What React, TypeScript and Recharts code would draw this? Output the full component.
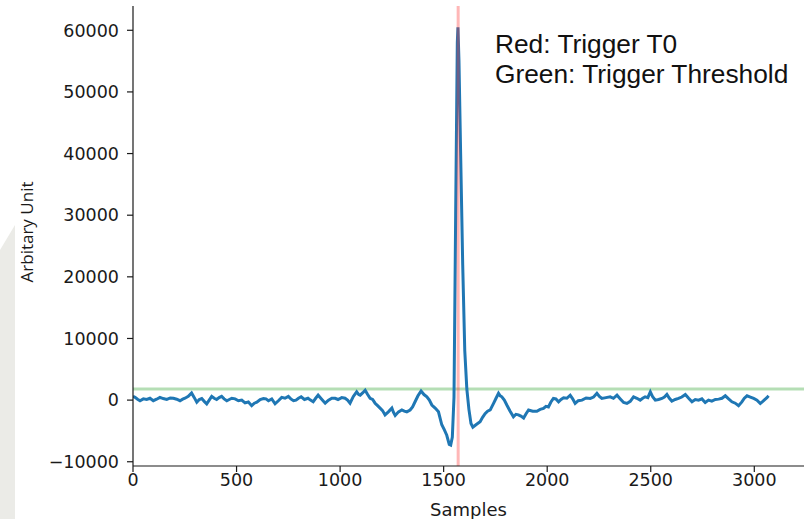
import React from "react"
import {
  LineChart,
  Line,
  XAxis,
  YAxis,
  ReferenceLine
} from "recharts"

// sample index of each point
const samples = [
  0, 10, 22, 34, 50, 66, 82, 98, 114, 130,
  146, 163, 180, 195, 211, 227, 240, 251, 267, 283,
  296, 308, 320, 332, 344, 356, 368, 380, 392, 404,
  416, 428, 440, 453, 465, 477, 493, 509, 525, 541,
  557, 573, 586, 598, 614, 630, 642, 654, 670, 686,
  702, 718, 734, 750, 762, 775, 787, 799, 812, 828,
  845, 857, 870, 882, 894, 910, 928, 944, 960, 976,
  990, 1008, 1024, 1036, 1048, 1064, 1080, 1090, 1097, 1110,
  1121, 1133, 1145, 1157, 1169, 1181, 1193, 1205, 1217, 1233,
  1250, 1258, 1266, 1282, 1298, 1310, 1322, 1338, 1350, 1362,
  1376, 1391, 1405, 1419, 1431, 1443, 1459, 1475, 1491, 1503,
  1515, 1527, 1534, 1542, 1550, 1558, 1566, 1569, 1574, 1582,
  1592, 1602, 1612, 1622, 1632, 1641, 1656, 1676, 1688, 1700,
  1712, 1725, 1741, 1753, 1765, 1773, 1781, 1793, 1805, 1821,
  1837, 1849, 1861, 1873, 1886, 1898, 1910, 1930, 1950, 1966,
  1982, 1994, 2006, 2018, 2030, 2042, 2055, 2067, 2079, 2095,
  2111, 2123, 2135, 2150, 2168, 2188, 2208, 2224, 2240, 2252,
  2264, 2284, 2304, 2320, 2337, 2353, 2369, 2385, 2401, 2417,
  2433, 2449, 2461, 2473, 2486, 2498, 2510, 2522, 2538, 2554,
  2566, 2578, 2590, 2602, 2618, 2634, 2650, 2667, 2683, 2699,
  2715, 2731, 2747, 2763, 2779, 2795, 2812, 2828, 2844, 2860,
  2876, 2892, 2908, 2924, 2940, 2952, 2965, 2981, 2997, 3013,
  3029, 3041, 3053, 3061, 3069
]

// amplitude (arbitrary unit) at each sample
const amplitude = [
  600, 450, 150, -100, 200, 100, 300, -100, 150, 450,
  250, 100, 350, 300, 150, -100, 150, 300, 600, 1150,
  400, -350, 100, 250, -200, -600, 0, 600, 300, 100,
  400, 600, 200, -100, 100, 300, 200, -100, 0, -450,
  -300, -900, -500, -350, 100, 250, 200, -100, 200, -600,
  -100, 450, 300, 600, 200, -100, 0, 300, 540, 100,
  300, 0, -270, 300, 800, 200, -500, 0, 300, 300,
  100, 400, 300, 0, -500, 600, 1350, 900, 800, 1200,
  1600, 900, 300, 100, -500, -900, -1300, -1700, -2400, -1900,
  -1300, -2000, -2500, -1900, -1600, -1800, -1900, -1600, -1100, -270,
  700, 1460, 900, 540, 0, -800, -1300, -1900, -4000, -4800,
  -5700, -7200, -7300, -6000, 500, 30000, 58000, 60500, 55000, 40000,
  22000, 8000, 1800, -1500, -3800, -4400, -4000, -3500, -2800, -2200,
  -1800, -1600, -540, 300, 1100, 700, 540, 0, -800, -1800,
  -2700, -2300, -2400, -2600, -2900, -2200, -1600, -1800, -1800, -1500,
  -1350, -1000, -1100, -300, 270, 200, -270, 100, 380, 300,
  800, 200, -540, -100, 0, 350, 270, 500, 1100, 600,
  270, 400, 540, 300, 800, 200, -380, -540, -200, 540,
  300, 0, 300, 540, 400, 1350, 500, 0, 100, 270,
  500, 920, 300, -160, 100, 270, 500, 920, 300, -270,
  100, 0, 200, -380, 0, -160, 100, 160, 300, 700,
  200, -270, -500, -920, -300, 300, 700, 500, 270, 0,
  -540, -200, 160, 400, 700
]

const xTicks = [0, 500, 1000, 1500, 2000, 2500, 3000]
const yTicks = [-10000, 0, 10000, 20000, 30000, 40000, 50000, 60000]

const triggerT0 = 1570
const triggerThreshold = 1800

const data = samples.map((s, i) => ({ sample: s, amp: amplitude[i] }))

const axisStroke = { stroke: "#1a1a1a", strokeWidth: 1.2 }
const FONT = 17.5

const fmtY = (v: number) => (v < 0 ? "\u2212" + Math.abs(v) : String(v))

const XTick = ({ x, y, payload }: any) => (
  <text x={x} y={y + 13} textAnchor="middle" fontFamily="DejaVu Sans" fontSize={FONT} fill="#1a1a1a">
    {payload.value}
  </text>
)

const YTick = ({ x, y, payload }: any) => (
  <text x={x} y={y + 6.3} textAnchor="end" fontFamily="DejaVu Sans" fontSize={FONT} fill="#1a1a1a">
    {fmtY(payload.value)}
  </text>
)

export default function App() {
  return (
    <div style={{ position: "absolute", left: 0, top: 0, width: 807, height: 519, background: "#fff" }}>
      <svg width={807} height={519} style={{ position: "absolute", left: 0, top: 0 }}>
        <polygon points="0,250 15,225 15,519 0,519" fill="#ebebe7" />
      </svg>
      <div style={{ position: "absolute", left: 0, top: 0 }}>
        <LineChart
          width={807}
          height={519}
          data={data}
          margin={{ top: 6, right: 3, left: 0, bottom: 0 }}
        >
          <XAxis
            xAxisId="b"
            dataKey="sample"
            type="number"
            domain={[0, 3240]}
            ticks={xTicks}
            interval={0}
            allowDataOverflow
            height={53}
            tickSize={6}
            tickMargin={1}
            tick={<XTick />}
            axisLine={axisStroke}
            tickLine={axisStroke}
          />
          <XAxis
            xAxisId="t"
            orientation="top"
            type="number"
            domain={[0, 3240]}
            height={0}
            tick={false}
            tickLine={false}
            axisLine={axisStroke}
          />
          <YAxis
            yAxisId="l"
            type="number"
            domain={[-10690, 63940]}
            ticks={yTicks}
            interval={0}
            allowDataOverflow
            width={133}
            tickSize={6}
            tickMargin={8}
            tick={<YTick />}
            axisLine={axisStroke}
            tickLine={axisStroke}
          />
          <YAxis
            yAxisId="r"
            orientation="right"
            type="number"
            domain={[-10690, 63940]}
            width={0}
            tick={false}
            tickLine={false}
            axisLine={axisStroke}
          />
          <ReferenceLine
            xAxisId="b"
            yAxisId="l"
            y={triggerThreshold}
            stroke="#2ca02c"
            strokeOpacity={0.35}
            strokeWidth={3}
          />
          <Line
            xAxisId="b"
            yAxisId="l"
            type="linear"
            dataKey="amp"
            stroke="#1f77b4"
            strokeWidth={3}
            dot={false}
            isAnimationActive={false}
          />
          <ReferenceLine
            xAxisId="b"
            yAxisId="l"
            x={triggerT0}
            stroke="#ff3030"
            strokeOpacity={0.35}
            strokeWidth={3}
          />
        </LineChart>
      </div>
      <svg width={807} height={519} style={{ position: "absolute", left: 0, top: 0, pointerEvents: "none" }}>
        <text x={468.5} y={516} textAnchor="middle" fontFamily="DejaVu Sans" fontSize={18} fill="#1a1a1a">
          Samples
        </text>
        <text
          transform="translate(33,232) rotate(-90)"
          textAnchor="middle"
          fontFamily="Open Sans"
          fontSize={17}
          fill="#1a1a1a"
        >
          Arbitary Unit
        </text>
        <text x={495} y={53} fontFamily="Liberation Sans" fontSize={26.3} fill="#111">
          Red: Trigger T0
        </text>
        <text x={495} y={83} fontFamily="Liberation Sans" fontSize={26.3} fill="#111">
          Green: Trigger Threshold
        </text>
      </svg>
    </div>
  )
}
